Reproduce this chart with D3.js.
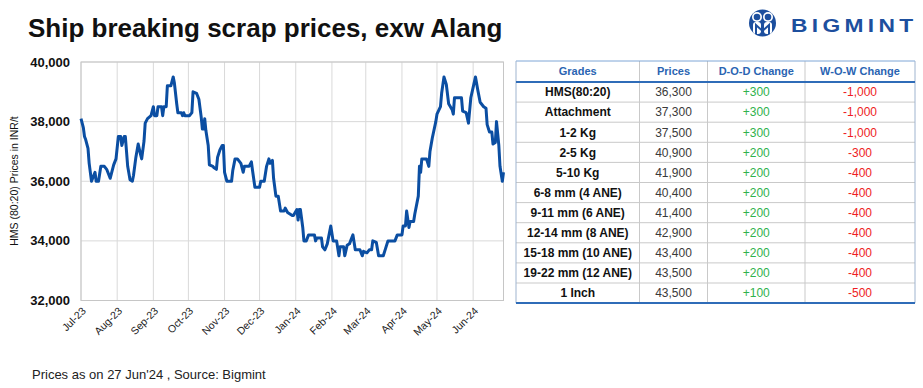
<!DOCTYPE html>
<html>
<head>
<meta charset="utf-8">
<script src="https://cdn.jsdelivr.net/npm/d3@7"></script>
<style>
  body { margin: 0; background: #fff; }
  svg text { font-family: "Liberation Sans", Arial, sans-serif; }
</style>
</head>
<body>
<div id="chart"></div>
<script>
// HMS (80:20) daily price, INR/t
var dates = [
  "2023-07-01","2023-07-03","2023-07-04","2023-07-05","2023-07-07","2023-07-08","2023-07-10","2023-07-13","2023-07-14","2023-07-16",
  "2023-07-18","2023-07-21","2023-07-23","2023-07-26","2023-07-27","2023-07-29","2023-07-31",
  "2023-08-02","2023-08-04","2023-08-05","2023-08-07","2023-08-08","2023-08-10","2023-08-12","2023-08-14","2023-08-15","2023-08-17",
  "2023-08-19","2023-08-21","2023-08-22","2023-08-24","2023-08-25","2023-08-27","2023-08-30",
  "2023-09-01","2023-09-02","2023-09-04","2023-09-05","2023-09-08","2023-09-09","2023-09-10","2023-09-12","2023-09-13","2023-09-16",
  "2023-09-18","2023-09-19","2023-09-21","2023-09-22","2023-09-25","2023-09-26","2023-09-27","2023-09-28",
  "2023-10-02","2023-10-04","2023-10-05","2023-10-08","2023-10-10","2023-10-12","2023-10-13","2023-10-14","2023-10-15","2023-10-16",
  "2023-10-18","2023-10-19","2023-10-22","2023-10-23","2023-10-25","2023-10-26","2023-10-28","2023-10-30","2023-10-31",
  "2023-11-01","2023-11-03","2023-11-07","2023-11-08","2023-11-10","2023-11-12","2023-11-15","2023-11-17","2023-11-18","2023-11-22",
  "2023-11-24","2023-11-25","2023-11-27",
  "2023-12-01","2023-12-02","2023-12-05","2023-12-07","2023-12-09","2023-12-10","2023-12-12","2023-12-13","2023-12-15","2023-12-17",
  "2023-12-19","2023-12-22","2023-12-23","2023-12-25","2023-12-27","2023-12-29","2023-12-30",
  "2024-01-02","2024-01-03","2024-01-04","2024-01-05","2024-01-07","2024-01-08","2024-01-10","2024-01-12","2024-01-17","2024-01-18",
  "2024-01-19","2024-01-23","2024-01-24","2024-01-26","2024-01-28","2024-01-31",
  "2024-02-02","2024-02-05","2024-02-07","2024-02-08","2024-02-11","2024-02-12","2024-02-14","2024-02-16","2024-02-19","2024-02-21",
  "2024-02-25","2024-02-27","2024-02-28",
  "2024-03-02","2024-03-04","2024-03-06","2024-03-07","2024-03-10","2024-03-12","2024-03-16","2024-03-18","2024-03-20","2024-03-26","2024-03-28",
  "2024-04-01","2024-04-02","2024-04-04","2024-04-05","2024-04-07","2024-04-08","2024-04-11","2024-04-12","2024-04-15","2024-04-16",
  "2024-04-17","2024-04-18","2024-04-22","2024-04-24","2024-04-25","2024-04-27","2024-04-30",
  "2024-05-01","2024-05-04","2024-05-05","2024-05-07","2024-05-09","2024-05-11","2024-05-14","2024-05-15","2024-05-16","2024-05-22",
  "2024-05-23","2024-05-26","2024-05-28","2024-05-30",
  "2024-06-03","2024-06-05","2024-06-07","2024-06-10","2024-06-12","2024-06-13","2024-06-15","2024-06-17","2024-06-18","2024-06-20",
  "2024-06-21","2024-06-23","2024-06-24","2024-06-26","2024-06-27"
];
var prices = [
  38100,37800,37500,37400,37100,36600,36000,36300,36000,36000,
  36500,36500,36400,36100,36250,36550,36750,
  37500,37500,37200,37500,37500,36500,36050,36000,36200,36800,
  37250,36900,36750,37350,37950,38100,38200,
  38500,38200,38200,38500,38500,38200,38500,38500,39200,39200,
  39500,39300,38600,38300,38300,38200,38300,38200,
  38200,38300,39000,38950,38750,38150,37750,37750,38100,37700,
  37200,36550,36500,36450,36400,36800,37050,37200,37200,
  36300,36000,36000,36350,36750,36750,36600,36300,36500,36500,
  36650,36350,35800,
  35800,36000,36000,36500,36750,36600,36700,36100,35500,35500,
  35000,35000,35100,34950,34900,34850,34850,
  35050,34700,35050,35050,34450,34000,34000,34200,34200,34000,
  34100,34100,33800,33700,33900,34500,
  34000,34000,33500,33800,33800,33500,33850,33900,34200,33700,
  33700,33500,33650,
  33600,33700,33700,34000,33950,33500,33500,33750,34000,34000,34200,
  34200,34500,34500,35000,34450,34650,34650,34900,35500,36500,
  36300,36750,36750,36500,37000,37450,38000,
  38250,38500,38950,39500,39250,38600,38400,38250,38800,38800,
  38350,38300,37950,38800,
  39500,39050,38650,38500,38450,37900,37650,37650,37250,37300,
  38000,37200,36500,36000,36300
];
var yTicks = [32000, 34000, 36000, 38000, 40000];
var monthTicks = ["2023-07-01","2023-08-01","2023-09-01","2023-10-01","2023-11-01","2023-12-01",
                  "2024-01-01","2024-02-01","2024-03-01","2024-04-01","2024-05-01","2024-06-01"];

// table
var tableHeader = ["Grades", "Prices", "D-O-D Change", "W-O-W Change"];
var grades = ["HMS(80:20)","Attachment","1-2 Kg","2-5 Kg","5-10 Kg","6-8 mm (4 ANE)","9-11 mm (6 ANE)",
              "12-14 mm (8 ANE)","15-18 mm (10 ANE)","19-22 mm (12 ANE)","1 Inch"];
var gradePrices = ["36,300","37,300","37,500","40,900","41,900","40,400","41,400","42,900","43,400","43,500","43,500"];
var dodChange = ["+300","+300","+300","+200","+200","+200","+200","+200","+200","+200","+100"];
var wowChange = ["-1,000","-1,000","-1,000","-300","-400","-400","-400","-400","-400","-400","-500"];

var W = 923, H = 388;
var svg = d3.select('#chart').append('svg')
  .attr('width', W).attr('height', H);

// title
svg.append('text')
  .attr('x', 28).attr('y', 37)
  .attr('font-size', 26).attr('font-weight', 'bold').attr('fill', '#111')
  .text('Ship breaking scrap prices, exw Alang');

// logo
var logo = svg.append('g');
logo.append('circle').attr('cx', 762.5).attr('cy', 23).attr('r', 13.5).attr('fill', '#1d4f9e');
[757, 768].forEach(function(cx){
  logo.append('rect').attr('x', cx - 4).attr('y', 22).attr('width', 8).attr('height', 12).attr('rx', 3).attr('fill', '#fff');
  logo.append('circle').attr('cx', cx).attr('cy', 17).attr('r', 5).attr('fill', '#fff');
  logo.append('circle').attr('cx', cx).attr('cy', 17).attr('r', 3.3).attr('fill', '#1d4f9e');
});
logo.append('path')
  .attr('d', 'M756,34 L756,25 L762.5,31 L769,25 L769,34')
  .attr('fill', 'none').attr('stroke', '#1d4f9e').attr('stroke-width', 2);
logo.append('text')
  .attr('transform', 'translate(791,31.5) scale(1.2,1)')
  .attr('font-size', 19).attr('font-weight', 'bold').attr('fill', '#1d4f9e')
  .attr('letter-spacing', 3.6)
  .text('BIGMINT');

// line chart
var x = d3.scaleTime()
  .domain([new Date(2023, 6, 1), new Date(2024, 5, 27)])
  .range([81, 503.5]);
var y = d3.scaleLinear()
  .domain([32000, 40000])
  .range([300.5, 62]);

var parse = d3.timeParse('%Y-%m-%d');
var series = dates.map(function(d, i){ return { date: parse(d), value: prices[i] }; });
var months = monthTicks.map(parse);

var grid = svg.append('g');
grid.selectAll('.hg').data(yTicks).enter().append('line')
  .attr('x1', 81).attr('x2', 503.5)
  .attr('y1', function(d){ return y(d); }).attr('y2', function(d){ return y(d); })
  .attr('stroke', '#d9d9d9').attr('stroke-width', 1);
grid.selectAll('.vg').data(months).enter().append('line')
  .attr('x1', function(d){ return x(d); }).attr('x2', function(d){ return x(d); })
  .attr('y1', 62).attr('y2', 300.5)
  .attr('stroke', '#d9d9d9').attr('stroke-width', 1);
svg.append('rect')
  .attr('x', 81).attr('y', 62).attr('width', 422.5).attr('height', 238.5)
  .attr('fill', 'none').attr('stroke', '#c6c6c6').attr('stroke-width', 1);

svg.selectAll('.ytick').data(yTicks).enter().append('text')
  .attr('x', 70).attr('y', function(d){ return y(d); })
  .attr('dy', '0.35em').attr('text-anchor', 'end')
  .attr('font-size', 13).attr('font-weight', 'bold').attr('fill', '#111')
  .text(d3.format(','));

svg.append('text')
  .attr('transform', 'translate(18,181) rotate(-90)')
  .attr('text-anchor', 'middle').attr('font-size', 10.5).attr('fill', '#111')
  .text('HMS (80:20) Prices in INR/t');

var fmtMonth = d3.timeFormat('%b-%y');
svg.selectAll('.xtick').data(months).enter().append('text')
  .attr('transform', function(d){ return 'translate(' + (x(d) + 3) + ',309) rotate(-45)'; })
  .attr('text-anchor', 'end').attr('dy', '0.35em')
  .attr('font-size', 10.5).attr('fill', '#222')
  .text(function(d){ return fmtMonth(d); });

var line = d3.line()
  .x(function(d){ return x(d.date); })
  .y(function(d){ return y(d.value); });
svg.append('path')
  .datum(series)
  .attr('d', line)
  .attr('fill', 'none')
  .attr('stroke', '#0b4ea2')
  .attr('stroke-width', 3)
  .attr('stroke-linejoin', 'round');

// footnote
svg.append('text')
  .attr('x', 32).attr('y', 379)
  .attr('font-size', 13).attr('fill', '#222')
  .text("Prices as on 27 Jun'24 , Source: Bigmint");

// price table
var colX = [516, 639.5, 707.5, 805, 915];
var headTop = 61, headH = 21, rowH = 20.1;
var tbl = svg.append('g');
var nRows = grades.length;
var tableBottom = headTop + headH + nRows * rowH;

// row separators
d3.range(1, nRows).forEach(function(i){
  var yy = headTop + headH + i * rowH;
  tbl.append('line').attr('x1', colX[0]).attr('x2', colX[4])
    .attr('y1', yy).attr('y2', yy).attr('stroke', '#c9c9c9').attr('stroke-width', 1);
});
// column separators
colX.slice(1, 4).forEach(function(cx){
  tbl.append('line').attr('x1', cx).attr('x2', cx)
    .attr('y1', headTop).attr('y2', tableBottom).attr('stroke', '#c9c9c9').attr('stroke-width', 1);
});
// outer borders
tbl.append('line').attr('x1', colX[0]).attr('x2', colX[4]).attr('y1', headTop).attr('y2', headTop)
  .attr('stroke', '#7fa6d6').attr('stroke-width', 1);
[colX[0], colX[4]].forEach(function(cx){
  tbl.append('line').attr('x1', cx).attr('x2', cx).attr('y1', headTop).attr('y2', tableBottom)
    .attr('stroke', '#9fb4cf').attr('stroke-width', 1);
});
tbl.append('line').attr('x1', colX[0]).attr('x2', colX[4]).attr('y1', headTop + headH).attr('y2', headTop + headH)
  .attr('stroke', '#2f6cb8').attr('stroke-width', 2);
tbl.append('line').attr('x1', colX[0]).attr('x2', colX[4]).attr('y1', tableBottom).attr('y2', tableBottom)
  .attr('stroke', '#2f6cb8').attr('stroke-width', 2);

tableHeader.forEach(function(h, j){
  tbl.append('text')
    .attr('x', (colX[j] + colX[j + 1]) / 2).attr('y', headTop + headH / 2)
    .attr('dy', '0.36em').attr('text-anchor', 'middle')
    .attr('font-size', 11).attr('font-weight', 'bold').attr('fill', '#2a64b2')
    .text(h);
});

var cols = [
  { vals: grades, color: '#111', weight: 'bold' },
  { vals: gradePrices, color: '#3a3a3a', weight: 'normal' },
  { vals: dodChange, color: '#2fb24c', weight: 'normal' },
  { vals: wowChange, color: '#ee1d24', weight: 'normal' }
];
cols.forEach(function(c, j){
  tbl.selectAll('.c' + j).data(c.vals).enter().append('text')
    .attr('x', (colX[j] + colX[j + 1]) / 2)
    .attr('y', function(d, i){ return headTop + headH + i * rowH + rowH / 2; })
    .attr('dy', '0.36em').attr('text-anchor', 'middle')
    .attr('font-size', 12).attr('font-weight', c.weight).attr('fill', c.color)
    .text(function(d){ return d; });
});
</script>
</body>
</html>
